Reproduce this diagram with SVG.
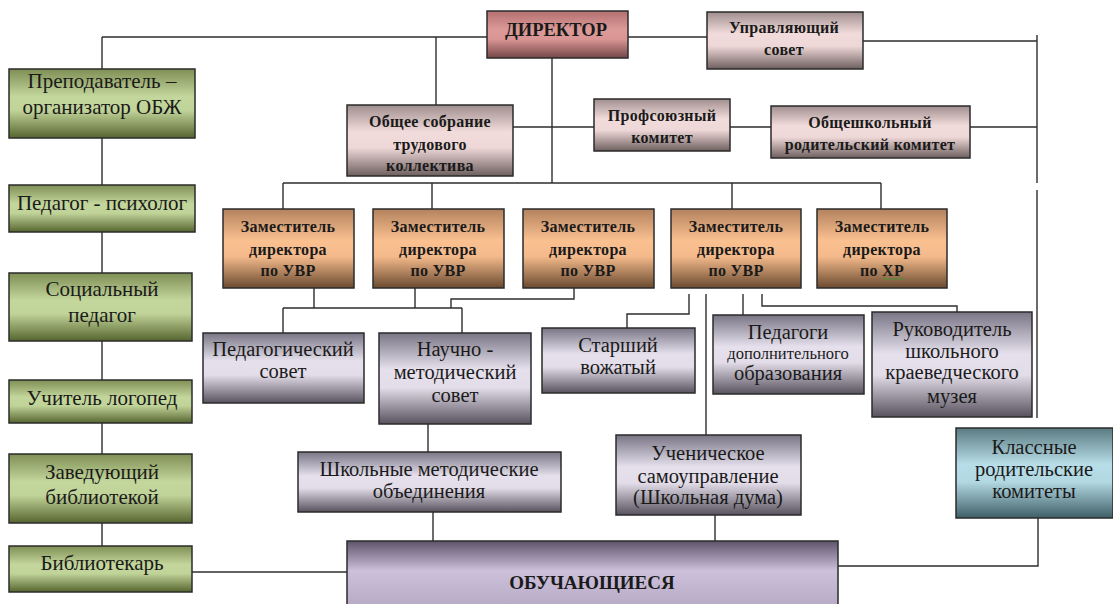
<svg xmlns="http://www.w3.org/2000/svg" width="1113" height="604" viewBox="0 0 1113 604">
<defs>
<linearGradient id="gDir" x1="0" y1="0" x2="0" y2="1"><stop offset="0" stop-color="#b47070"/><stop offset="0.4" stop-color="#dc9a99"/><stop offset="0.6" stop-color="#d99594"/><stop offset="1" stop-color="#744646"/></linearGradient>
<linearGradient id="gPink" x1="0" y1="0" x2="0" y2="1"><stop offset="0" stop-color="#a08e8e"/><stop offset="0.38" stop-color="#f2dcdb"/><stop offset="0.6" stop-color="#eed8d7"/><stop offset="1" stop-color="#6e5f5f"/></linearGradient>
<linearGradient id="gGreen" x1="0" y1="0" x2="0" y2="1"><stop offset="0" stop-color="#7f8f55"/><stop offset="0.4" stop-color="#c3d69b"/><stop offset="0.6" stop-color="#c0d398"/><stop offset="1" stop-color="#56652f"/></linearGradient>
<linearGradient id="gOrange" x1="0" y1="0" x2="0" y2="1"><stop offset="0" stop-color="#b3825e"/><stop offset="0.4" stop-color="#fac090"/><stop offset="0.6" stop-color="#f4ba8b"/><stop offset="1" stop-color="#6a4a30"/></linearGradient>
<linearGradient id="gLav" x1="0" y1="0" x2="0" y2="1"><stop offset="0" stop-color="#7a7585"/><stop offset="0.4" stop-color="#e5e0ec"/><stop offset="0.6" stop-color="#e2dde9"/><stop offset="1" stop-color="#57525e"/></linearGradient>
<linearGradient id="gObu" x1="0" y1="0" x2="0" y2="1"><stop offset="0" stop-color="#5e546a"/><stop offset="0.45" stop-color="#ccc0da"/><stop offset="1" stop-color="#b6aac4"/></linearGradient>
<linearGradient id="gTeal" x1="0" y1="0" x2="0" y2="1"><stop offset="0" stop-color="#5a7a80"/><stop offset="0.4" stop-color="#b7dde8"/><stop offset="0.6" stop-color="#b2d8e2"/><stop offset="1" stop-color="#3f5f66"/></linearGradient>
</defs>
<style>
rect{stroke:#2b2b2b;stroke-width:1.5}
text{font-family:"Liberation Serif","Times New Roman",serif;fill:#1a1a1a;text-anchor:middle}
.b{font-weight:bold;font-size:16px;letter-spacing:0.3px}
.r{font-size:20.5px}
.l{font-size:21px}
.s{font-size:16.5px}
#connectors path{fill:none;stroke:#2e2e2e;stroke-width:1.4}
</style>
<rect x="0" y="0" width="1113" height="604" fill="#ffffff" style="stroke:none"/>
<g id="connectors">
<path d="M102 37H487M628 37H707"/>
<path d="M102 37V69"/>
<path d="M436 37V105"/>
<path d="M863 41H1037M1037 35V183M1037 190V418"/>
<path d="M552 58V183"/>
<path d="M513 127H594M730 127H771M970 127H1037"/>
<path d="M283 183H881M283 183V209M432 183V209M732 183V209M881 183V209"/>
<path d="M314 288V308M415 288V308M283 308H462M283 308V333M462 308V333M574 288V299H451V308"/>
<path d="M689 294V314H627V328"/>
<path d="M706 294V435"/>
<path d="M743 294V315"/>
<path d="M762 294V306H957V312"/>
<path d="M428 424V452"/>
<path d="M433 512V541"/>
<path d="M715 515V547"/>
<path d="M102 138V185M102 232V273M102 341V380M102 423V454M102 523V546"/>
<path d="M192 572H347"/>
<path d="M838 566H1038V518"/>
</g>
<g id="director"><rect x="487" y="11" width="141" height="47" fill="url(#gDir)"/><text class="b" x="556" y="36" style="font-size:18.5px;letter-spacing:0">ДИРЕКТОР</text></g>
<g id="upravl"><rect x="707" y="12" width="156" height="57" fill="url(#gPink)"/><text class="b" x="784" y="33">Управляющий</text><text class="b" x="784" y="55">совет</text></g>
<g id="obschee"><rect x="347" y="105" width="166" height="71" fill="url(#gPink)"/><text class="b" x="430" y="127">Общее собрание</text><text class="b" x="430" y="150">трудового</text><text class="b" x="430" y="171">коллектива</text></g>
<g id="profsoyuz"><rect x="594" y="99" width="136" height="52" fill="url(#gPink)"/><text class="b" x="662" y="121">Профсоюзный</text><text class="b" x="662" y="143">комитет</text></g>
<g id="obroditel"><rect x="771" y="106" width="199" height="52" fill="url(#gPink)"/><text class="b" x="870" y="128">Общешкольный</text><text class="b" x="870" y="150">родительский  комитет</text></g>
<g id="zam1"><rect x="223" y="209" width="131" height="79" fill="url(#gOrange)"/><text class="b" x="288" y="232">Заместитель</text><text class="b" x="288" y="255">директора</text><text class="b" x="288" y="276">по УВР</text></g>
<g id="zam2"><rect x="373" y="209" width="131" height="79" fill="url(#gOrange)"/><text class="b" x="438" y="232">Заместитель</text><text class="b" x="438" y="255">директора</text><text class="b" x="438" y="276">по УВР</text></g>
<g id="zam3"><rect x="523" y="209" width="131" height="79" fill="url(#gOrange)"/><text class="b" x="588" y="232">Заместитель</text><text class="b" x="588" y="255">директора</text><text class="b" x="588" y="276">по УВР</text></g>
<g id="zam4"><rect x="671" y="209" width="130" height="79" fill="url(#gOrange)"/><text class="b" x="736" y="232">Заместитель</text><text class="b" x="736" y="255">директора</text><text class="b" x="736" y="276">по УВР</text></g>
<g id="zam5"><rect x="817" y="209" width="130" height="79" fill="url(#gOrange)"/><text class="b" x="882" y="232">Заместитель</text><text class="b" x="882" y="255">директора</text><text class="b" x="882" y="276">по ХР</text><path d="M883 279q1.5 -2 3 0t3 0t3 0t3 0t3 0t3 0t3 0" fill="none" stroke="#3a9a3a" stroke-width="1"/></g>
<g id="pedsovet"><rect x="203" y="333" width="161" height="70" fill="url(#gLav)"/><text class="r" x="283" y="356">Педагогический</text><text class="r" x="283" y="378">совет</text></g>
<g id="nauchno"><rect x="379" y="333" width="152" height="91" fill="url(#gLav)"/><text class="r" x="455" y="356">Научно -</text><text class="r" x="455" y="379">методический</text><text class="r" x="455" y="402">совет</text></g>
<g id="vozhaty"><rect x="542" y="328" width="153" height="65" fill="url(#gLav)"/><text class="r" x="618" y="352">Старший</text><text class="r" x="618" y="374">вожатый</text></g>
<g id="pedagogi"><rect x="713" y="315" width="151" height="79" fill="url(#gLav)"/><text class="r" x="788" y="339">Педагоги</text><text class="s" x="788" y="359">дополнительного</text><text class="r" x="788" y="380">образования</text></g>
<g id="muzei"><rect x="872" y="312" width="160" height="105" fill="url(#gLav)"/><text class="r" x="952" y="336">Руководитель</text><text class="r" x="952" y="358">школьного</text><text class="r" x="952" y="379">краеведческого</text><text class="r" x="952" y="403">музея</text></g>
<g id="shmo"><rect x="298" y="452" width="263" height="60" fill="url(#gLav)"/><text class="r" x="429" y="476">Школьные методические</text><text class="r" x="429" y="498">объединения</text></g>
<g id="uchen"><rect x="616" y="435" width="185" height="80" fill="url(#gLav)"/><text class="r" x="708" y="460">Ученическое</text><text class="r" x="708" y="483">самоуправление</text><text class="r" x="708" y="504">(Школьная дума)</text></g>
<g id="klassnye"><rect x="956" y="428" width="157" height="90" fill="url(#gTeal)"/><text class="r" x="1034" y="454">Классные</text><text class="r" x="1034" y="476">родительские</text><text class="r" x="1034" y="498">комитеты</text></g>
<g id="obuch"><rect x="347" y="541" width="491" height="66" fill="url(#gObu)"/><text class="b" x="592" y="589" style="font-size:19px;letter-spacing:0">ОБУЧАЮЩИЕСЯ</text></g>
<g id="obzh"><rect x="9" y="69" width="186" height="69" fill="url(#gGreen)"/><text class="l" x="102" y="88">Преподаватель –</text><text class="l" x="102" y="114">организатор ОБЖ</text></g>
<g id="psiholog"><rect x="9" y="185" width="186" height="47" fill="url(#gGreen)"/><text class="l" x="102" y="210">Педагог - психолог</text></g>
<g id="socped"><rect x="9" y="273" width="183" height="68" fill="url(#gGreen)"/><text class="l" x="102" y="296">Социальный</text><text class="l" x="102" y="322">педагог</text></g>
<g id="logoped"><rect x="9" y="380" width="183" height="43" fill="url(#gGreen)"/><text class="l" x="102" y="405">Учитель логопед</text></g>
<g id="zavbib"><rect x="9" y="454" width="183" height="69" fill="url(#gGreen)"/><text class="l" x="102" y="479">Заведующий</text><text class="l" x="102" y="504">библиотекой</text></g>
<g id="bibliotekar"><rect x="9" y="546" width="183" height="46" fill="url(#gGreen)"/><text class="l" x="102" y="570">Библиотекарь</text></g>
</svg>
